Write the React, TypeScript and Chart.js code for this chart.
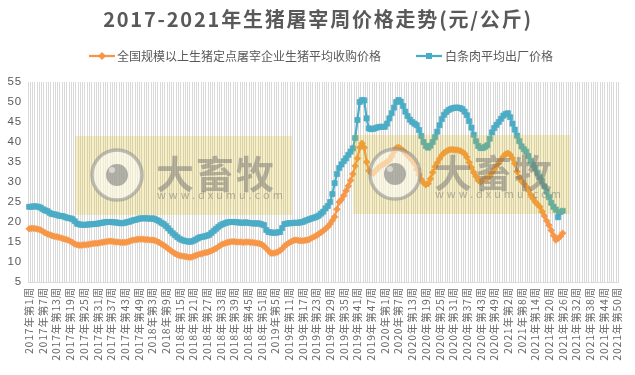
import React, { useEffect, useRef } from 'react';
import { Chart, registerables } from 'chart.js';

Chart.register(...registerables);

// ---------- data ----------
const YEARS = [2017, 2018, 2019, 2020, 2021];
const WEEKS_IN_YEAR = [52, 52, 52, 53, 50];
const LABEL_STEP = 6;
const Y_MIN = 5;
const Y_MAX = 55;
const Y_STEP = 5;

const TITLE = '2017-2021年生猪屠宰周价格走势(元/公斤)';
const SERIES_NAMES = ['全国规模以上生猪定点屠宰企业生猪平均收购价格', '白条肉平均出厂价格'];
const WATERMARK_TEXT = '大畜牧';
const WATERMARK_URL = 'www.dxumu.com';

// 全国规模以上生猪定点屠宰企业生猪平均收购价格 (元/公斤), weekly from 2017 week 1
const purchasePrice = [
  18.3, 18.4, 18.4, 18.3, 18.2, 18.0, 17.7, 17.3, 17.0, 16.8,
  16.6, 16.4, 16.3, 16.2, 16.0, 15.8, 15.7, 15.5, 15.2, 14.9,
  14.5, 14.3, 14.2, 14.2, 14.3, 14.3, 14.4, 14.5, 14.6, 14.7,
  14.7, 14.8, 14.9, 15.0, 15.1, 15.2, 15.2, 15.1, 15.0, 15.0,
  14.9, 14.9, 14.9, 15.0, 15.2, 15.4, 15.5, 15.6, 15.7, 15.7,
  15.7, 15.6,
  15.6, 15.5, 15.5, 15.4, 15.2, 14.9, 14.5, 14.2, 13.8, 13.3,
  12.9, 12.5, 12.1, 11.8, 11.6, 11.5, 11.4, 11.3, 11.2, 11.2,
  11.4, 11.6, 11.8, 12.0, 12.1, 12.3, 12.4, 12.6, 12.8, 13.1,
  13.4, 13.8, 14.2, 14.5, 14.7, 14.9, 15.0, 15.1, 15.1, 15.0,
  15.0, 15.0, 14.9, 15.0, 15.0, 14.9, 14.9, 14.8, 14.7, 14.6,
  14.4, 14.0,
  13.4, 12.8, 12.2, 12.2, 12.3, 12.5, 12.8, 13.3, 14.0, 14.4,
  14.8, 15.1, 15.4, 15.5, 15.4, 15.3, 15.3, 15.4, 15.5, 15.7,
  16.0, 16.3, 16.6, 17.0, 17.4, 17.8, 18.3, 18.8, 19.5, 20.4,
  21.3, 23.2, 25.0, 25.6, 26.6, 27.8, 29.0, 30.4, 32.0, 34.0,
  35.9, 38.6, 39.7, 38.6, 35.0, 32.8, 32.3, 32.2, 32.8, 33.4,
  34.0, 34.3,
  34.6, 35.1, 35.5, 36.4, 37.6, 38.5, 38.7, 38.3, 37.9, 37.3,
  36.6, 36.1, 35.4, 34.6, 33.2, 31.8, 30.6, 29.8, 29.3, 29.6,
  30.8, 32.4, 33.8, 34.8, 35.8, 36.7, 37.3, 37.7, 38.0, 38.1,
  38.1, 38.0, 38.0, 37.8, 37.5, 37.1, 36.2, 34.9, 33.6, 32.4,
  31.4, 30.4, 30.0, 30.5, 30.9, 30.9, 31.4, 32.3, 33.2, 34.0,
  34.8, 35.6, 36.4,
  37.0, 37.2, 36.8, 35.9, 34.6, 32.6, 31.2, 30.2, 29.6, 28.9,
  27.9, 26.8, 25.9, 25.0, 24.4, 23.8, 22.6, 21.5, 20.3, 19.2,
  17.9, 16.6, 15.5, 15.9, 16.4, 17.2,
];

// 白条肉平均出厂价格 (元/公斤)
const carcassPrice = [
  23.8, 23.8, 23.9, 23.9, 23.8, 23.6, 23.2, 22.9, 22.7, 22.3,
  22.0, 21.9, 21.8, 21.6, 21.5, 21.4, 21.2, 21.0, 20.9, 20.7,
  20.2, 19.6, 19.4, 19.3, 19.3, 19.3, 19.4, 19.4, 19.5, 19.5,
  19.6, 19.7, 19.8, 19.9, 20.0, 20.0, 20.0, 19.9, 19.9, 19.8,
  19.7, 19.7, 19.8, 20.0, 20.1, 20.3, 20.5, 20.6, 20.8, 20.9,
  20.9, 20.9,
  20.9, 20.8, 20.9, 20.8, 20.5, 20.2, 19.8, 19.5, 19.0, 18.4,
  17.8, 17.2, 16.7, 16.2, 15.8, 15.5, 15.3, 15.2, 15.1, 15.1,
  15.3, 15.6, 15.9, 16.2, 16.3, 16.4, 16.6, 16.8, 17.3, 17.8,
  18.3, 18.8, 19.2, 19.5, 19.7, 19.9, 20.0, 20.0, 20.0, 19.9,
  19.9, 19.8, 19.8, 19.9, 19.8, 19.7, 19.7, 19.6, 19.7, 19.6,
  19.4, 19.2,
  18.0, 17.5, 17.4, 17.3, 17.3, 17.4, 17.5, 18.5, 19.5, 19.6,
  19.7, 19.7, 19.8, 19.8, 19.8, 19.9, 20.0, 20.3, 20.5, 20.7,
  20.9, 21.1, 21.3, 21.6, 22.1, 22.6, 23.4, 24.0, 25.0, 27.0,
  29.7, 32.0, 33.5, 34.4, 35.2, 35.9, 36.8, 37.6, 38.4, 41.0,
  45.5, 50.0, 50.5, 50.4, 45.9, 43.4, 43.2, 43.3, 43.5, 43.7,
  43.8, 43.8,
  43.8, 44.6, 45.9, 47.2, 48.6, 50.0, 50.5, 50.1, 49.0, 47.6,
  46.5, 45.6, 45.0, 44.6, 44.2, 43.0, 41.5, 40.0, 39.0, 38.6,
  39.1, 40.0, 41.2, 42.6, 44.2, 45.7, 46.8, 47.5, 48.0, 48.3,
  48.5, 48.6, 48.6, 48.5, 48.2, 47.6, 46.7, 45.2, 43.6, 41.8,
  40.2, 39.0, 38.5, 38.5, 38.8, 39.2, 40.8, 42.4, 43.5, 44.3,
  45.0, 45.8, 46.6,
  47.0, 47.2, 46.2, 44.6, 43.1, 41.6, 40.2, 38.9, 38.2, 37.6,
  36.5, 35.3, 34.3, 33.4, 32.3, 31.2, 30.2, 28.9, 27.6, 26.2,
  24.8, 23.8, 23.1, 21.2, 22.5, 22.8,
];

// ---------- styles ----------
const ORANGE = '#F79646';
const BLUE = '#4BACC6';
const TEXT = '#595959';
const AXIS_TEXT = '#6A6A6A';
const GRID = '#D9D9D9';
const FONT = '"Noto Sans CJK SC", "Liberation Sans", sans-serif';
const W = 635;
const H = 375;

const labels: string[] = [];
YEARS.forEach((y, k) => {
  for (let w = 1; w <= WEEKS_IN_YEAR[k]; w++) labels.push(`${y}年第${w}周`);
});

function drawWatermark(ctx: CanvasRenderingContext2D, bx: number, by: number) {
  ctx.save();
  (ctx as any).letterSpacing = '0px';
  ctx.fillStyle = 'rgba(215,180,0,0.22)';
  ctx.fillRect(bx, by, 217, 79);
  const cx = bx + 42;
  const cy = by + 39;
  ctx.beginPath();
  ctx.arc(cx, cy, 25, 0, Math.PI * 2);
  ctx.fillStyle = 'rgba(255,255,255,0.55)';
  ctx.fill();
  ctx.lineWidth = 3.5;
  ctx.strokeStyle = 'rgba(140,140,140,0.55)';
  ctx.stroke();
  ctx.beginPath();
  ctx.arc(cx, cy, 11, 0, Math.PI * 2);
  ctx.fillStyle = 'rgba(105,105,105,0.5)';
  ctx.fill();
  ctx.beginPath();
  ctx.arc(cx - 5, cy - 5, 3, 0, Math.PI * 2);
  ctx.fillStyle = 'rgba(255,255,255,0.5)';
  ctx.fill();
  ctx.fillStyle = 'rgba(115,115,115,0.5)';
  ctx.textBaseline = 'alphabetic';
  ctx.textAlign = 'left';
  ctx.font = `bold 38px ${FONT}`;
  (ctx as any).letterSpacing = '2px';
  ctx.fillText(WATERMARK_TEXT, bx + 81, by + 52);
  ctx.font = `11px ${FONT}`;
  (ctx as any).letterSpacing = '3px';
  ctx.fillText(WATERMARK_URL, bx + 82, by + 63);
  ctx.restore();
}

const decorPlugin = {
  id: 'decor',
  beforeDraw(chart: any) {
    const ctx: CanvasRenderingContext2D = chart.ctx;
    ctx.save();
    ctx.fillStyle = '#FFFFFF';
    ctx.fillRect(0, 0, W, H);
    // title
    ctx.fillStyle = TEXT;
    ctx.font = `bold 20px ${FONT}`;
    (ctx as any).letterSpacing = '1.8px';
    ctx.textAlign = 'center';
    ctx.textBaseline = 'middle';
    ctx.fillText(TITLE, 318, 19);
    (ctx as any).letterSpacing = '0px';
    // legend
    const ly = 56;
    ctx.font = `12px ${FONT}`;
    ctx.textAlign = 'left';
    ctx.strokeStyle = ORANGE;
    ctx.lineWidth = 2.25;
    ctx.beginPath();
    ctx.moveTo(89, ly);
    ctx.lineTo(115, ly);
    ctx.stroke();
    ctx.fillStyle = ORANGE;
    ctx.beginPath();
    ctx.moveTo(102, ly - 4);
    ctx.lineTo(106, ly);
    ctx.lineTo(102, ly + 4);
    ctx.lineTo(98, ly);
    ctx.closePath();
    ctx.fill();
    ctx.fillStyle = TEXT;
    ctx.fillText(SERIES_NAMES[0], 117, ly);
    ctx.strokeStyle = BLUE;
    ctx.beginPath();
    ctx.moveTo(416, ly);
    ctx.lineTo(442, ly);
    ctx.stroke();
    ctx.fillStyle = BLUE;
    ctx.fillRect(426, ly - 3, 6, 6);
    ctx.fillStyle = TEXT;
    ctx.fillText(SERIES_NAMES[1], 445, ly);
    ctx.restore();
    // spaced axis labels (reset before the data is drawn)
    (ctx as any).letterSpacing = '0.8px';
  },
  beforeDatasetsDraw(chart: any) {
    (chart.ctx as any).letterSpacing = '0px';
  },
  afterDraw(chart: any) {
    const ctx: CanvasRenderingContext2D = chart.ctx;
    drawWatermark(ctx, 75, 136);
    drawWatermark(ctx, 353, 135);
  },
};

export default function App() {
  const ref = useRef<HTMLCanvasElement | null>(null);
  useEffect(() => {
    if (!ref.current) return;
    const chart = new Chart(ref.current, {
      type: 'line',
      data: {
        labels,
        datasets: [
          {
            label: SERIES_NAMES[0],
            data: purchasePrice,
            borderColor: ORANGE,
            backgroundColor: ORANGE,
            pointBorderColor: ORANGE,
            pointBackgroundColor: ORANGE,
            borderWidth: 2.25,
            pointStyle: 'rectRot',
            pointRadius: 3.3,
            pointBorderWidth: 0.75,
            tension: 0,
            fill: false,
          },
          {
            label: SERIES_NAMES[1],
            data: carcassPrice,
            borderColor: BLUE,
            backgroundColor: BLUE,
            pointBorderColor: BLUE,
            pointBackgroundColor: BLUE,
            borderWidth: 2.25,
            pointStyle: 'rect',
            pointRadius: 3.6,
            pointBorderWidth: 0.75,
            tension: 0,
            fill: false,
          },
        ],
      },
      options: {
        responsive: false,
        animation: false,
        events: [],
        layout: { padding: { top: 82, right: 13, bottom: 0, left: 0 } },
        plugins: {
          legend: { display: false },
          title: { display: false },
          tooltip: { enabled: false },
        },
        scales: {
          x: {
            type: 'category',
            offset: true,
            grid: { display: true, offset: true, color: GRID, lineWidth: 1, drawTicks: false },
            border: { display: true, color: GRID, width: 1 },
            ticks: {
              autoSkip: false,
              maxRotation: 90,
              minRotation: 90,
              padding: 5,
              color: AXIS_TEXT,
              font: { family: FONT, size: 10.5 },
              callback: (_v: any, idx: number) => (idx % LABEL_STEP === 0 ? labels[idx] : ''),
            },
            afterFit: (s: any) => {
              s.height = 93;
            },
          },
          y: {
            min: Y_MIN,
            max: Y_MAX,
            ticks: { stepSize: Y_STEP, padding: 6, color: TEXT, font: { family: '"Liberation Sans", sans-serif', size: 11.5 } },
            grid: { display: false, drawTicks: false },
            border: { display: false },
            afterFit: (s: any) => {
              s.width = 28;
            },
          },
        },
      },
      plugins: [decorPlugin],
    });
    return () => chart.destroy();
  }, []);
  return (
    <div style={{ position: 'absolute', left: 0, top: 0, width: W, height: H, background: '#fff' }}>
      <canvas ref={ref} width={W} height={H} style={{ display: 'block' }} />
    </div>
  );
}
